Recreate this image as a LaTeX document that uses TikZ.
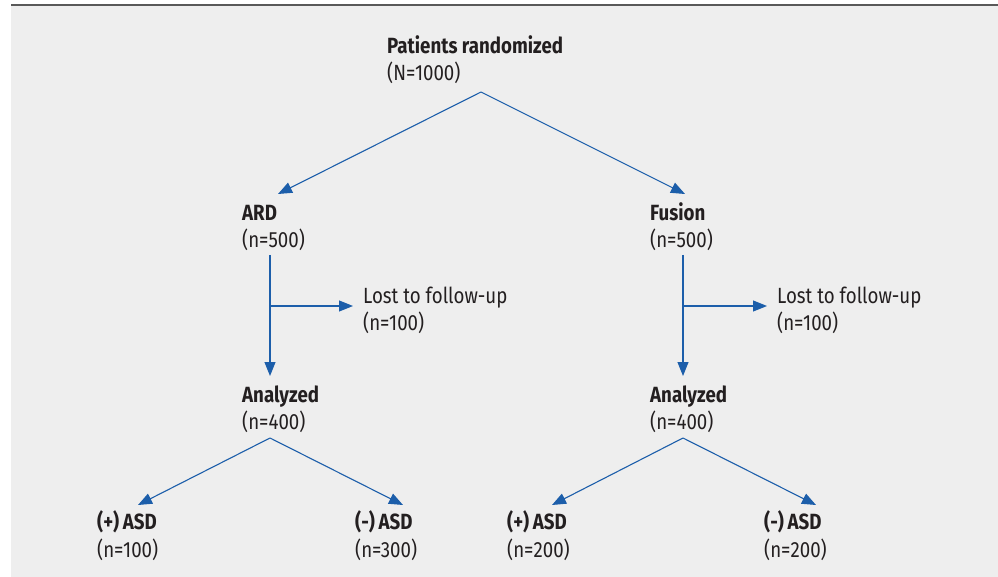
\documentclass[tikz,border=0pt]{standalone}
\usepackage{fontspec}
\setmainfont{Fira Sans}[FakeStretch=0.85]
\usepackage{tikz}
\usetikzlibrary{arrows.meta,positioning}
\usepackage{xcolor}
\definecolor{flowblue}{RGB}{28,94,170}
\definecolor{panelgray}{RGB}{238,238,238}
\definecolor{textdark}{RGB}{35,31,32}
\newcommand{\cnt}[2]{(#1=#2)}

\begin{document}
\begin{tikzpicture}[
  x=1pt,y=-1pt,>={Triangle[length=14pt,width=11pt]},
  every node/.style={font=\fontsize{22}{26}\selectfont,inner sep=0pt,anchor=base west,text=textdark},
  head/.style={font=\fontsize{22}{26}\selectfont\bfseries},
  flow/.style={->,color=flowblue,line width=1.1pt}
]
  % Panel (grey field with rule on top)
  \useasboundingbox (0,0) rectangle (998,577);
  \fill[panelgray] (11,5) rectangle (998,577);
  \draw[black!65,line width=1.6pt] (11,5) -- (998,5);

  % Top level
  \node[head] (rand)  at (387,54) {Patients randomized};
  \node       (randN) at (387,81) {\cnt{N}{1000}};
  \coordinate (rand_out) at (481,92);

  % Arms
  \node[head] (ard)  at (242,221) {ARD};
  \node       (ardN) at (242,248) {\cnt{n}{500}};
  \node[head] (fus)  at (650,221) {Fusion};
  \node       (fusN) at (650,248) {\cnt{n}{500}};
  \coordinate (ard_in) at (278,194);
  \coordinate (fus_in) at (685,194);

  \draw[flow] (rand_out) -- (ard_in);
  \draw[flow] (rand_out) -- (fus_in);

  % Lost to follow-up (kept beside the arm lines)
  \node (ardLost)  at (363,303) {Lost to follow-up};
  \node (ardLostN) at (363,330) {\cnt{n}{100}};
  \node (fusLost)  at (777,303) {Lost to follow-up};
  \node (fusLostN) at (777,330) {\cnt{n}{100}};

  \coordinate (ard_out)   at (270,255);
  \coordinate (ard_split) at (270,306);
  \coordinate (ard_lost)  at (353,306);
  \coordinate (fus_out)   at (683,255);
  \coordinate (fus_split) at (683,306);
  \coordinate (fus_lost)  at (767,306);

  % Analyzed
  \node[head] (ardAn)  at (242,402) {Analyzed};
  \node       (ardAnN) at (242,429) {\cnt{n}{400}};
  \node[head] (fusAn)  at (650,402) {Analyzed};
  \node       (fusAnN) at (650,429) {\cnt{n}{400}};
  \coordinate (ardAn_in) at (270,376);
  \coordinate (fusAn_in) at (683,376);

  \draw[flow] (ard_out) -- (ardAn_in);
  \draw[flow] (ard_split) -- (ard_lost);
  \draw[flow] (fus_out) -- (fusAn_in);
  \draw[flow] (fus_split) -- (fus_lost);

  % ASD outcome per arm
  \node[head] (ardPos)  at (97,529)  {(+)\,ASD};
  \node       (ardPosN) at (97,557)  {\cnt{n}{100}};
  \node[head] (ardNeg)  at (355,529) {(-)\,ASD};
  \node       (ardNegN) at (355,557) {\cnt{n}{300}};
  \node[head] (fusPos)  at (507,529) {(+)\,ASD};
  \node       (fusPosN) at (507,557) {\cnt{n}{200}};
  \node[head] (fusNeg)  at (764,529) {(-)\,ASD};
  \node       (fusNegN) at (764,557) {\cnt{n}{200}};

  \coordinate (ardAn_out) at (270,438);
  \coordinate (fusAn_out) at (683,438);
  \coordinate (ardPos_in) at (138,505);
  \coordinate (ardNeg_in) at (403,505);
  \coordinate (fusPos_in) at (552,505);
  \coordinate (fusNeg_in) at (816,505);

  \draw[flow] (ardAn_out) -- (ardPos_in);
  \draw[flow] (ardAn_out) -- (ardNeg_in);
  \draw[flow] (fusAn_out) -- (fusPos_in);
  \draw[flow] (fusAn_out) -- (fusNeg_in);
\end{tikzpicture}
\end{document}
